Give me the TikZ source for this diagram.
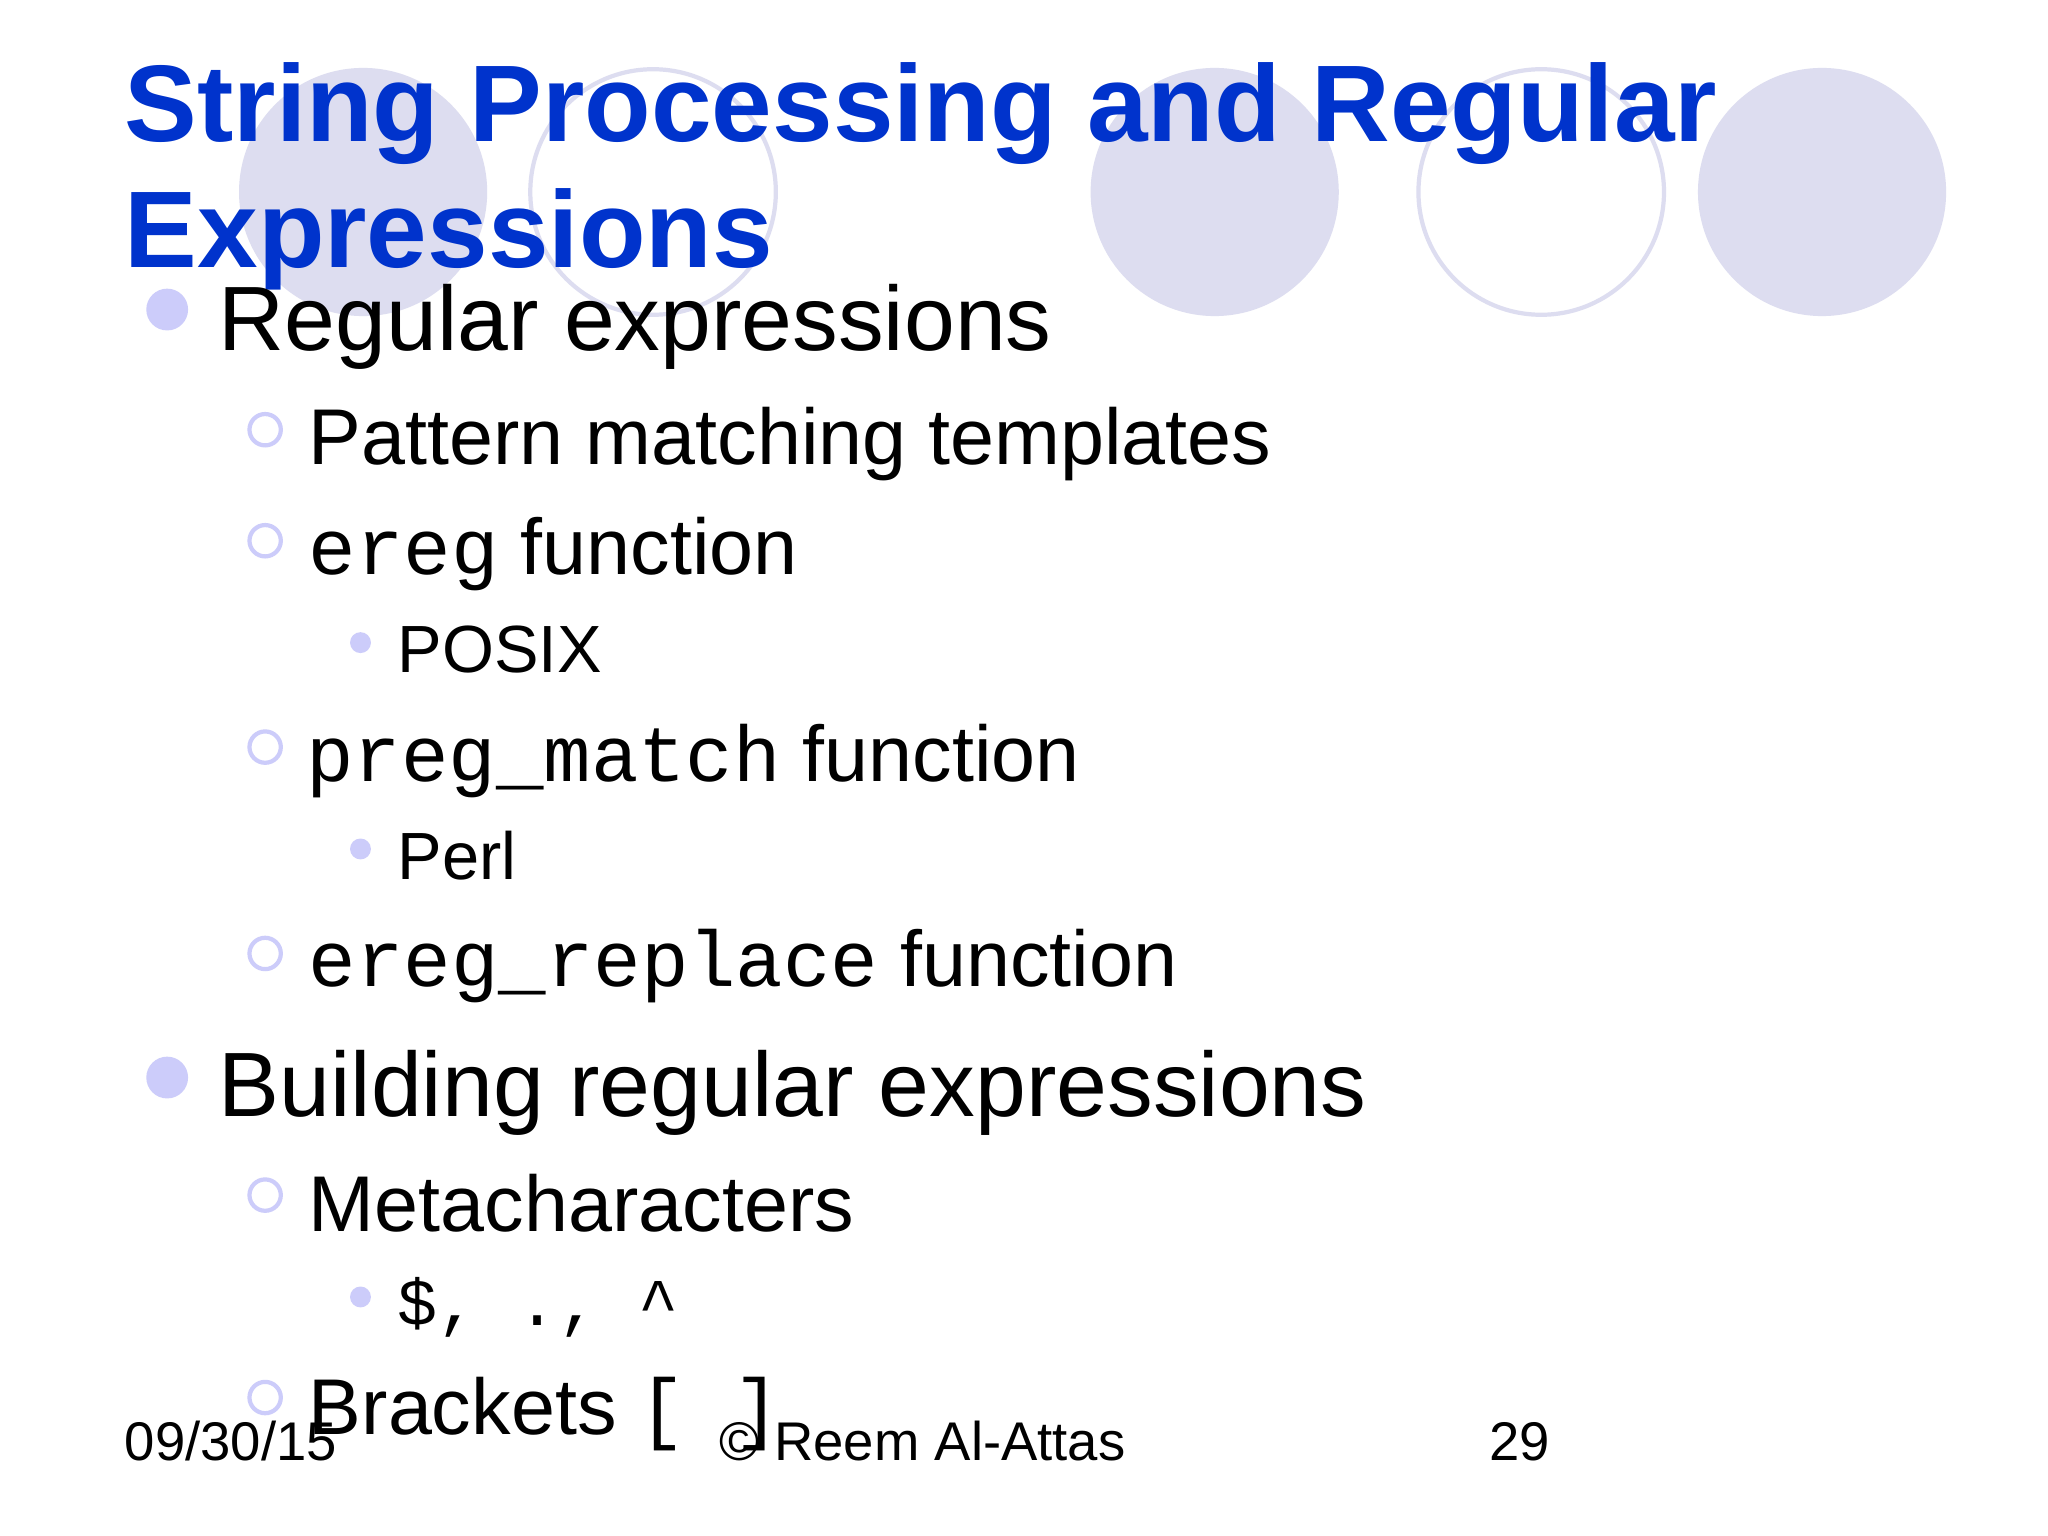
\documentclass[tikz,border=0pt]{standalone}
\usepackage{fontspec}
\setmainfont{Liberation Sans}
\newfontfamily\cour{Liberation Mono}
\definecolor{lav}{RGB}{221,221,240}
\definecolor{bul}{RGB}{204,204,250}
\definecolor{ttl}{RGB}{0,51,204}
\begin{document}
\begin{tikzpicture}[x=0.01306cm,y=-0.01306cm,
  txt/.style={anchor=base west,inner sep=0pt},
  lone/.style={txt,font=\fontsize{26}{30}\selectfont},
  ltwo/.style={txt,font=\fontsize{22.5}{26}\selectfont},
  lthree/.style={txt,font=\fontsize{19}{22}\selectfont},
  foot/.style={txt,font=\fontsize{15.5}{18}\selectfont},
  bone/.style={fill=bul},
  btwo/.style={draw=bul,line width=1.2pt},
  bthree/.style={fill=bul}]
\useasboundingbox[fill=white] (0,0) rectangle (1568,1176);
\fill[lav] (278,147) circle (95);
\draw[lav,line width=1.2pt] (500,147) circle (94);
\fill[lav] (930,147) circle (95);
\draw[lav,line width=1.2pt] (1180,147) circle (94);
\fill[lav] (1395,147) circle (95);
\node[txt,font=\fontsize{31}{36}\selectfont\bfseries,text=ttl] (t1) at (95,108) {String Processing and Regular};
\node[txt,font=\fontsize{31}{36}\selectfont\bfseries,text=ttl] (t2) at (95,205) {Expressions};
\foreach \y in {237,825} \fill[bone] (128,\y) circle (16);
\foreach \y in {329,414,572,730,915,1070} \draw[btwo] (203,\y) circle (12);
\foreach \y in {492,650,993} \fill[bthree] (276,\y) circle (8);
\node[lone] (a) at (167,268) {Regular expressions};
\node[ltwo] (b) at (236,356) {Pattern matching templates};
\node[ltwo] (c) at (236,440) {{\cour ereg} function};
\node[lthree] (d) at (304,515) {POSIX};
\node[ltwo] (e) at (234,598) {{\cour preg\_match} function};
\node[lthree] (f) at (304,673) {Perl};
\node[ltwo] (g) at (236,755) {{\cour ereg\_replace} function};
\node[lone] (h) at (167,855) {Building regular expressions};
\node[ltwo] (i) at (236,943) {Metacharacters};
\node[lthree] (j) at (304,1015) {\cour \$, ., \^{}};
\node[ltwo] (k) at (236,1098) {Brackets {\cour [ ]}};
\node[foot] (f1) at (95,1118) {09/30/15};
\node[foot] (f2) at (550,1118) {© Reem Al-Attas};
\node[foot] (f3) at (1140,1118) {29};
\end{tikzpicture}
\end{document}
